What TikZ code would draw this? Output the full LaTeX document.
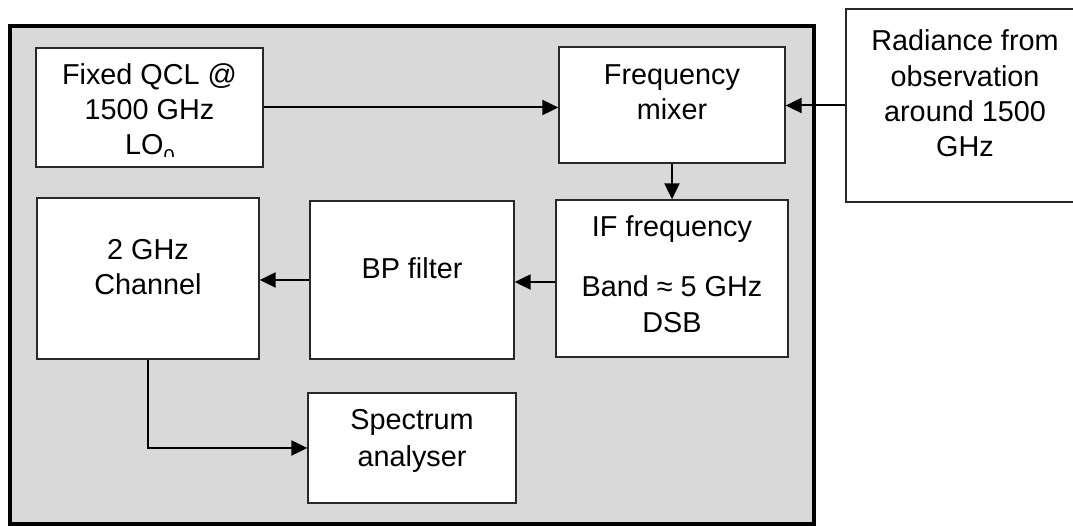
\documentclass[tikz,border=0pt]{standalone}
\usepackage{fontspec}
\setmainfont{Liberation Sans}
\usetikzlibrary{arrows.meta}
\definecolor{panelgray}{RGB}{217,217,217}
\definecolor{edgegray}{RGB}{40,40,40}
\begin{document}
\begin{tikzpicture}[x=1pt,y=1pt,
  frame/.style={draw=black, fill=panelgray, line width=4pt, inner sep=0pt},
  box/.style={draw=edgegray, fill=white, line width=1.3pt, inner sep=0pt},
  lbl/.style={anchor=base, inner sep=0pt, font=\fontsize{28.8}{35}\selectfont},
  arr/.style={-{Triangle[length=16pt,width=15pt]}, line width=2pt}]
\useasboundingbox (0,0) rectangle (1073,526);
\clip (0,0) rectangle (1073,526);
% outer panel
\node[frame, minimum width=804pt, minimum height=498pt] (panel) at (412,251) {};
% boxes
\node[box, minimum width=227pt, minimum height=119pt] (qcl)   at (149.5,418.5) {};
\node[box, minimum width=226pt, minimum height=116pt] (mixer) at (672,421) {};
\node[box, minimum width=239pt, minimum height=193pt] (rad)   at (965.5,420.5) {};
\node[box, minimum width=232pt, minimum height=157pt] (ifb)   at (672,247.5) {};
\node[box, minimum width=204pt, minimum height=158pt] (bp)    at (412,246) {};
\node[box, minimum width=222pt, minimum height=161pt] (chan)  at (148,247.5) {};
\node[box, minimum width=208pt, minimum height=110pt] (spec)  at (412,78) {};
% texts
\node[lbl] (qcl-t1) at (149.5,441) {Fixed QCL @};
\node[lbl] (qcl-t2) at (149.5,406) {1500 GHz};
\begin{scope}
  \clip (36,369) rectangle (263,478);
  \node[lbl] (qcl-t3) at (150,371) {LO\raisebox{-8.3pt}{\fontsize{20}{20}\selectfont 0}};
\end{scope}
\node[lbl] (mixer-t1) at (672,441) {Frequency};
\node[lbl] (mixer-t2) at (672,406) {mixer};
\node[lbl] (rad-t1) at (965,475) {Radiance from};
\node[lbl] (rad-t2) at (965,439) {observation};
\node[lbl] (rad-t3) at (965,404) {around 1500};
\node[lbl] (rad-t4) at (965,369) {GHz};
\node[lbl] (ifb-t1) at (672,289) {IF frequency};
\node[lbl] (ifb-t2) at (672,229) {Band ≈ 5 GHz};
\node[lbl] (ifb-t3) at (672,193) {DSB};
\node[lbl] (bp-t1) at (412,247) {BP filter};
\node[lbl] (chan-t1) at (148,266) {2 GHz};
\node[lbl] (chan-t2) at (148,231) {Channel};
\node[lbl] (spec-t1) at (412,96) {Spectrum};
\node[lbl] (spec-t2) at (412,59) {analyser};
% connectors
\draw[arr] (qcl.east) -- (qcl.east -| mixer.west);
\draw[arr] (rad.west) -- (rad.west -| mixer.east);
\draw[arr] (mixer.south) -- (mixer.south |- ifb.north);
\draw[arr] (ifb.west |- 0,244) -- (bp.east |- 0,244);
\draw[arr] (bp.west) -- (bp.west -| chan.east);
\draw[arr] (chan.south) |- (spec.west);
\end{tikzpicture}
\end{document}
